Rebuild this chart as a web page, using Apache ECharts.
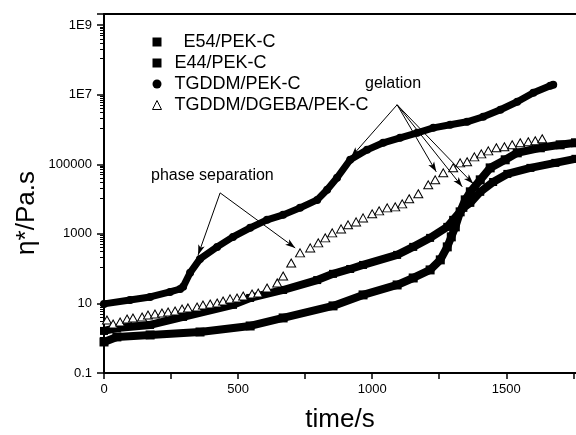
<!DOCTYPE html>
<html>
<head>
<meta charset="utf-8">
<script src="https://cdn.jsdelivr.net/npm/echarts@6/dist/echarts.min.js"></script>
<style>
	html, body { margin: 0; padding: 0; background: #fff; }
	#viscChart { width: 576px; height: 435px; }
</style>
</head>
<body>
<div id="viscChart"></div>
<script>
// values (time in s, viscosity in Pa.s)
var timeE54 = [0, 48, 172, 358, 545, 668, 854, 966, 1093, 1153, 1216, 1254, 1280, 1295, 1310, 1328, 1347, 1366, 1403, 1440, 1496, 1541, 1627, 1701, 1758];
var etaE54 = [0.78, 1.09, 1.24, 1.51, 2.25, 3.83, 8.5, 17.6, 34, 54, 92, 179, 423, 820, 1590, 4300, 9500, 16200, 35800, 79000, 135000, 214000, 299000, 364000, 416000];

var timeE44 = [0, 48, 172, 295, 481, 545, 668, 795, 854, 918, 966, 1093, 1153, 1216, 1280, 1302, 1340, 1366, 1403, 1451, 1504, 1590, 1683, 1758];
var etaE44 = [1.62, 1.97, 2.41, 4.1, 9.1, 14.4, 24.4, 47, 71, 98, 128, 249, 423, 768, 1590, 2530, 5600, 7800, 16200, 31000, 53000, 79000, 110000, 144000];

var timeTGDDM = [0, 97, 172, 246, 284, 295, 321, 358, 422, 481, 545, 608, 668, 731, 795, 832, 869, 918, 981, 1041, 1104, 1168, 1228, 1291, 1354, 1414, 1478, 1541, 1601, 1664, 1675];
var etaTGDDM = [9.7, 12.6, 15.4, 21.4, 26, 30, 76, 191, 423, 820, 1490, 2530, 3520, 5600, 9500, 18500, 41000, 135000, 261000, 416000, 580000, 806000, 1120000, 1370000, 1670000, 2330000, 3700000, 6300000, 11400000, 18200000, 19400000];

var timeBlend = [11, 34, 60, 86, 108, 142, 164, 190, 216, 239, 265, 291, 313, 347, 369, 396, 422, 444, 470, 496, 519, 552, 575, 608, 646, 668, 698, 731, 769, 799, 825, 851, 884, 910, 940, 966, 1000, 1026, 1056, 1086, 1112, 1138, 1172, 1209, 1235, 1265, 1302, 1328, 1354, 1381, 1407, 1433, 1463, 1493, 1522, 1552, 1582, 1608, 1634];
var etaBlend = [3.35, 2.57, 2.94, 3.58, 3.83, 4.09, 4.67, 4.99, 5.33, 5.69, 6.08, 6.95, 7.43, 7.93, 9.06, 9.68, 10.3, 11.8, 13.5, 14.4, 16.4, 18.7, 20.0, 27.9, 38.9, 61.8, 146, 284, 395, 551, 767, 1070, 1390, 1820, 2210, 2880, 3770, 4590, 5600, 5980, 7290, 10200, 14200, 25700, 35800, 56900, 79300, 110000, 118000, 164000, 200000, 244000, 299000, 319000, 364000, 416000, 444000, 474000, 542000];

var seriesNames = ['E54/PEK-C', 'E44/PEK-C', 'TGDDM/PEK-C', 'TGDDM/DGEBA/PEK-C'];
var yTickValues = [0.1, 10, 1000, 100000, 1e7, 1e9];
var yTickLabels = ['0.1', '10', '1000', '100000', '1E7', '1E9'];

// annotation arrows: start and end points in data units
var phaseFrom = [433, 15100];
var phaseTo = [[351, 249], [713, 395]];
var gelFrom = [1093, 5150000];
var gelTo = [[922, 164000], [1239, 60800], [1336, 22500], [1377, 27500]];

var FONT = '"Liberation Sans", Arial, sans-serif';

function pairs(xs, ys) {
	var out = [];
	for (var i = 0; i < xs.length; i++) out.push([xs[i], ys[i]]);
	return out;
}

function arrowLines(from, tos) {
	var out = [];
	tos.forEach(function (t) {
		out.push([{ coord: from, symbol: 'none' }, { coord: t, symbol: 'arrow' }]);
	});
	return out;
}

var viscChart = echarts.init(document.getElementById('viscChart'));

var option = {
	animation: false,
	backgroundColor: '#fff',
	textStyle: { fontFamily: FONT, color: '#000' },
	grid: { left: 104, right: 0, top: 14, bottom: 62, containLabel: false, outerBoundsMode: 'none' },
	legend: {
		orient: 'vertical',
		left: 152,
		top: 33,
		padding: 0,
		itemWidth: 9,
		itemHeight: 9,
		itemGap: 3,
		selectedMode: false,
		textStyle: { fontSize: 18, color: '#000', fontFamily: FONT, padding: [0, 0, 0, 8] },
		data: [
			{ name: seriesNames[0], icon: 'rect', itemStyle: { color: '#000' }, textStyle: { padding: [0, 0, 0, 17] } },
			{ name: seriesNames[1], icon: 'rect', itemStyle: { color: '#000' } },
			{ name: seriesNames[2], icon: 'circle', itemStyle: { color: '#000' } },
			{ name: seriesNames[3], icon: 'triangle', itemStyle: { color: '#fff', borderColor: '#000', borderWidth: 1 } }
		]
	},
	xAxis: [{
		type: 'value',
		min: 0,
		max: 1760,
		interval: 250,
		name: 'time/s',
		nameLocation: 'middle',
		nameGap: 34,
		nameTextStyle: { fontSize: 26, color: '#000', fontFamily: FONT },
		axisLine: { lineStyle: { color: '#000', width: 2 } },
		axisTick: { inside: false, length: 6, lineStyle: { color: '#000', width: 1.5 } },
		axisLabel: {
			margin: 10,
			fontSize: 13,
			color: '#000',
			fontFamily: FONT,
			showMaxLabel: false,
			formatter: function (v) { return v % 500 === 0 ? String(v) : ''; }
		},
		splitLine: { show: false }
	}, {
		type: 'value',
		position: 'top',
		min: 0,
		max: 1760,
		axisLine: { lineStyle: { color: '#000', width: 2 } },
		axisTick: { show: false },
		axisLabel: { show: false },
		splitLine: { show: false }
	}],
	yAxis: {
		type: 'log',
		logBase: 10,
		min: 0.1,
		max: 2.1e9,
		interval: 2,
		axisLine: { lineStyle: { color: '#000', width: 2 } },
		axisTick: { inside: false, length: 7, lineStyle: { color: '#000', width: 1.5 } },
		minorTick: { show: true, splitNumber: 10, length: 4, lineStyle: { color: '#000', width: 1 } },
		axisLabel: {
			margin: 12,
			fontSize: 13,
			color: '#000',
			fontFamily: FONT,
			showMaxLabel: false,
			formatter: function (v) {
				for (var i = 0; i < yTickValues.length; i++) {
					if (Math.abs(Math.log10(v) - Math.log10(yTickValues[i])) < 0.01) return yTickLabels[i];
				}
				return '';
			}
		},
		splitLine: { show: false },
		minorSplitLine: { show: false }
	},
	graphic: [{
		type: 'text',
		x: 27,
		y: 213,
		rotation: Math.PI / 2,
		style: { text: 'η*/Pa.s', font: '26px ' + FONT, fill: '#000', textAlign: 'center', textVerticalAlign: 'middle' }
	}, {
		type: 'text',
		x: 151,
		y: 176,
		style: { text: 'phase separation', font: '16px ' + FONT, fill: '#000', textAlign: 'left', textVerticalAlign: 'middle' }
	}, {
		type: 'text',
		x: 365,
		y: 84,
		style: { text: 'gelation', font: '16px ' + FONT, fill: '#000', textAlign: 'left', textVerticalAlign: 'middle' }
	}],
	series: [{
		name: seriesNames[2],
		type: 'line',
		data: pairs(timeTGDDM, etaTGDDM),
		symbol: 'circle',
		symbolSize: 8,
		showAllSymbol: true,
		itemStyle: { color: '#000' },
		lineStyle: { color: '#000', width: 7, cap: 'round', join: 'round' },
		z: 2
	}, {
		name: seriesNames[0],
		type: 'line',
		data: pairs(timeE54, etaE54),
		symbol: 'rect',
		symbolSize: 9,
		showAllSymbol: true,
		itemStyle: { color: '#000' },
		lineStyle: { color: '#000', width: 8, join: 'round' },
		z: 2
	}, {
		name: seriesNames[1],
		type: 'line',
		data: pairs(timeE44, etaE44),
		symbol: 'rect',
		symbolSize: 8,
		showAllSymbol: true,
		itemStyle: { color: '#000' },
		lineStyle: { color: '#000', width: 8, join: 'round' },
		z: 2
	}, {
		name: seriesNames[3],
		type: 'scatter',
		data: pairs(timeBlend, etaBlend),
		symbol: 'triangle',
		symbolSize: [9, 8],
		itemStyle: { color: '#fff', borderColor: '#000', borderWidth: 1, opacity: 1 },
		z: 3,
		markLine: {
			silent: true,
			symbol: ['none', 'arrow'],
			symbolSize: [5, 10],
			label: { show: false },
			lineStyle: { color: '#000', width: 1, type: 'solid' },
			data: arrowLines(phaseFrom, phaseTo).concat(arrowLines(gelFrom, gelTo))
		}
	}]
};

viscChart.setOption(option);
</script>
</body>
</html>
